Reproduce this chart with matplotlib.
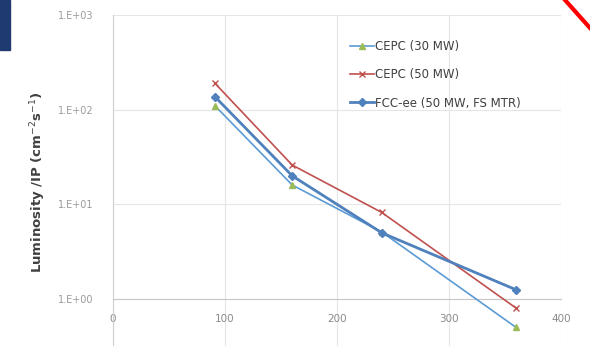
import numpy as np
import matplotlib
matplotlib.use("Agg")
import matplotlib.pyplot as plt
from matplotlib.ticker import FixedLocator, FuncFormatter
from matplotlib.lines import Line2D
from matplotlib.patches import Rectangle

# energies (GeV) and luminosity per IP (1e34 cm^-2 s^-1)
energy = [91, 160, 240, 360]
cepc_30 = [110, 16, 5.1, 0.5]
cepc_50 = [190, 26, 8.2, 0.8]
fcc_ee = [137, 20, 5.0, 1.25]
labels = ["CEPC (30 MW)", "CEPC (50 MW)", "FCC-ee (50 MW, FS MTR)"]
y_ticks = [1, 10, 100, 1000]
x_ticks = [0, 100, 200, 300, 400]

fig = plt.figure(figsize=(5.9, 3.46), dpi=100)
W, H = 590, 346
ax = fig.add_axes([113 / W, 0, (561 - 113) / W, (H - 15) / H])

decade = (299 - 15) / 3.0
ax.set_yscale("log")
ax.set_ylim(10 ** (-(H - 299) / decade), 1000)
ax.set_xlim(0, 400)

ax.plot(energy, cepc_30, color="#5b9bd5", lw=1.2, marker="^", ms=4,
        mfc="#9bbb59", mec="#9bbb59", label=labels[0], zorder=3)
ax.plot(energy, cepc_50, color="#c0504d", lw=1.2, marker="x", ms=5,
        mec="#c0504d", label=labels[1], zorder=3)
ax.plot(energy, fcc_ee, color="#4f81bd", lw=2.0, marker="D", ms=4.5,
        mfc="#4f81bd", mec="#4f81bd", label=labels[2], zorder=4)

# axes look
for s in ["top", "right"]:
    ax.spines[s].set_visible(False)
ax.spines["left"].set_color("#d0d0d0")
ax.spines["bottom"].set_position(("data", 1))
ax.spines["bottom"].set_color("#c8c8c8")
ax.yaxis.set_major_locator(FixedLocator(y_ticks))
ax.yaxis.set_minor_locator(FixedLocator([]))
ax.yaxis.set_major_formatter(FuncFormatter(lambda v, p: "1.E+%02d" % round(np.log10(v))))
ax.xaxis.set_major_locator(FixedLocator(x_ticks))
ax.tick_params(axis="y", labelsize=7, colors="#9a9a9a", length=0, pad=14)
ax.tick_params(axis="x", labelsize=7.5, colors="#8a8a8a", length=0, pad=11)
ax.grid(True, color="#e6e6e6", lw=0.8, zorder=0)
ax.set_axisbelow(True)

ax.set_ylabel("Luminosity /IP (cm$^{-2}$s$^{-1}$)", fontsize=9.5,
              fontweight="bold", color="#404040")
ax.yaxis.set_label_coords(-0.145, 0.495)

ax.legend(loc="upper left", bbox_to_anchor=(0.529, 0.925), frameon=False,
          fontsize=8.5, handlelength=2.0, handletextpad=0.1,
          labelspacing=1.3, borderaxespad=0, borderpad=0,
          labelcolor="#404040")

# decorations from the slide crop
fig.patches.append(Rectangle((0, 1 - 50 / H), 10 / W, 50 / H,
                             transform=fig.transFigure, color="#1f3a6e"))
fig.lines.append(Line2D([565 / W, 1.0], [1.0, 1 - 28 / H],
                        transform=fig.transFigure, color="red", lw=3))

fig.savefig("out.png", dpi=100)
